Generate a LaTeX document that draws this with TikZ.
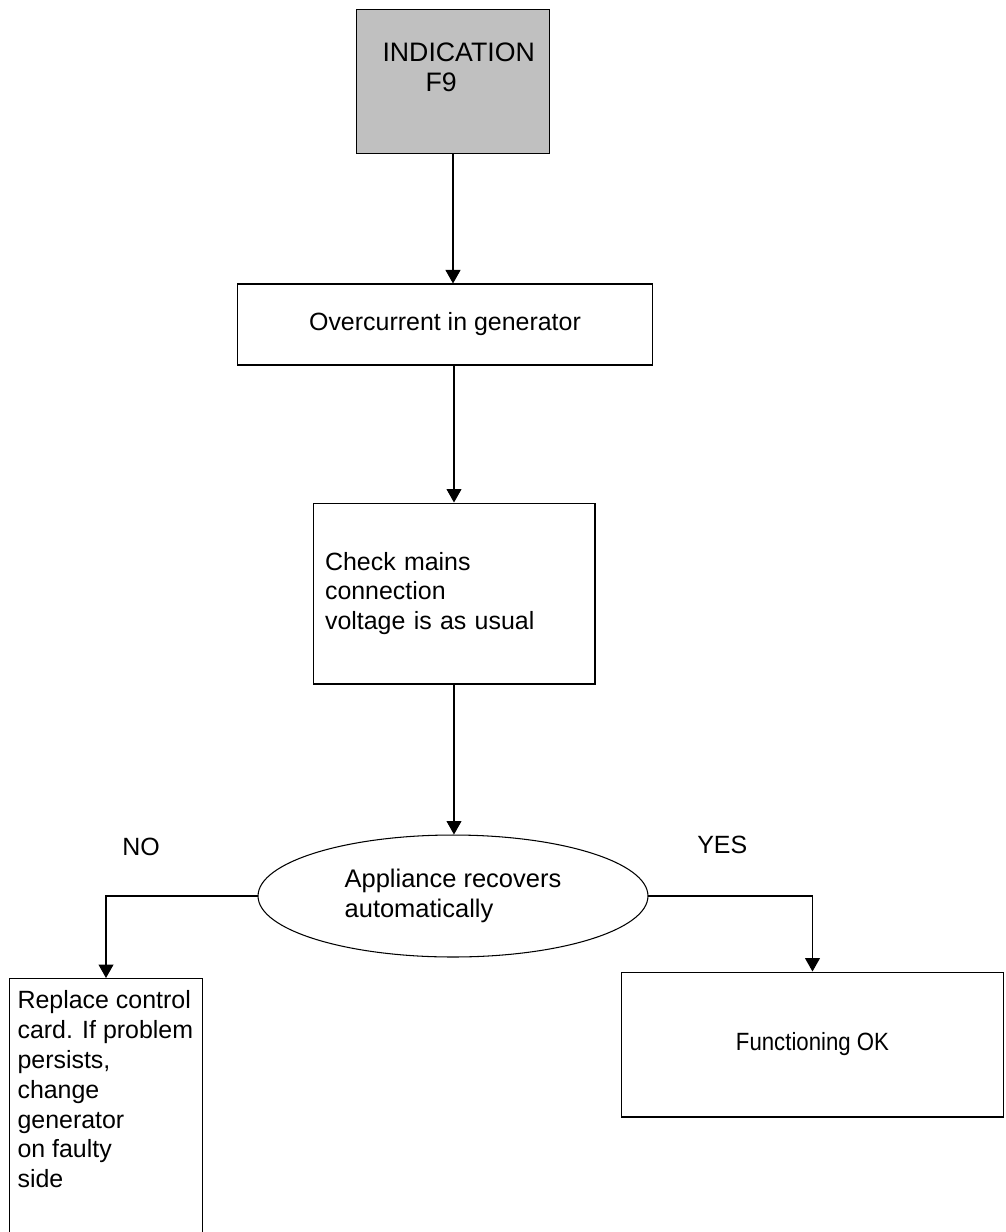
\documentclass[tikz,border=0pt]{standalone}
\usepackage{fontspec}
\setmainfont{Liberation Sans}
\usetikzlibrary{positioning}
\usetikzlibrary{shapes.geometric}
\usetikzlibrary{arrows.meta}

\definecolor{boxgray}{RGB}{192,192,192}

\begin{document}
\begin{tikzpicture}[x=0.02cm, y=-0.02cm,
  every node/.style={font=\fontsize{14.2}{17}\selectfont, inner sep=0pt},
  box/.style={draw, line width=0.6pt, rectangle},
  arr/.style={line width=0.6pt, -{Triangle[length=0.27cm, width=0.3cm]}}]
\useasboundingbox (0,0) rectangle (1006,1232);

\node[box, fill=boxgray, anchor=north west, font=\fontsize{15.2}{17}\selectfont] (ind) at (356,9)
  {\parbox[c][2.88cm][t]{3.86cm}{\vspace*{0.66cm}\hspace*{0.52cm}INDICATION\\\hspace*{1.38cm}F9}};
\node[box, minimum width=8.32cm, minimum height=1.62cm] (ovc) at (445,324.5) {Overcurrent in generator};
\node[box, minimum width=5.64cm, minimum height=3.62cm, text width=5.16cm, align=left] (chk) at (454,593.5)
  {Check mains\\connection\\voltage is as usual};
\node[box, ellipse, minimum width=7.8cm, minimum height=2.44cm, align=left,
  font=\fontsize{14.5}{17.5}\selectfont] (rec) at (453,896)
  {Appliance recovers\\automatically};
\node[box, anchor=north west] (rep) at (9,978)
  {\parbox[c][6cm][t]{3.86cm}{\raggedright\leftskip=0.16cm\vspace*{0.24cm}Replace control\\card. If problem\\persists,\\change\\generator\\on faulty\\side}};
\node[box, minimum width=7.66cm, minimum height=2.9cm] (ok) at (812.5,1044.5)
  {\scalebox{0.89}[1]{Functioning OK}};

\node[anchor=base west] (no) at (122,855) {NO};
\node[anchor=base west] (yes) at (697,853) {YES};

% connectors
\draw[arr] (ind.south) -- (ind.south |- ovc.north);
\draw[arr] (chk.north |- ovc.south) -- (chk.north);
\draw[arr] (chk.south) -- (chk.south |- rec.north);
\draw[arr] (rec.west) -| (rep.north);
\draw[arr] (rec.east) -| (ok.north);
\end{tikzpicture}
\end{document}
